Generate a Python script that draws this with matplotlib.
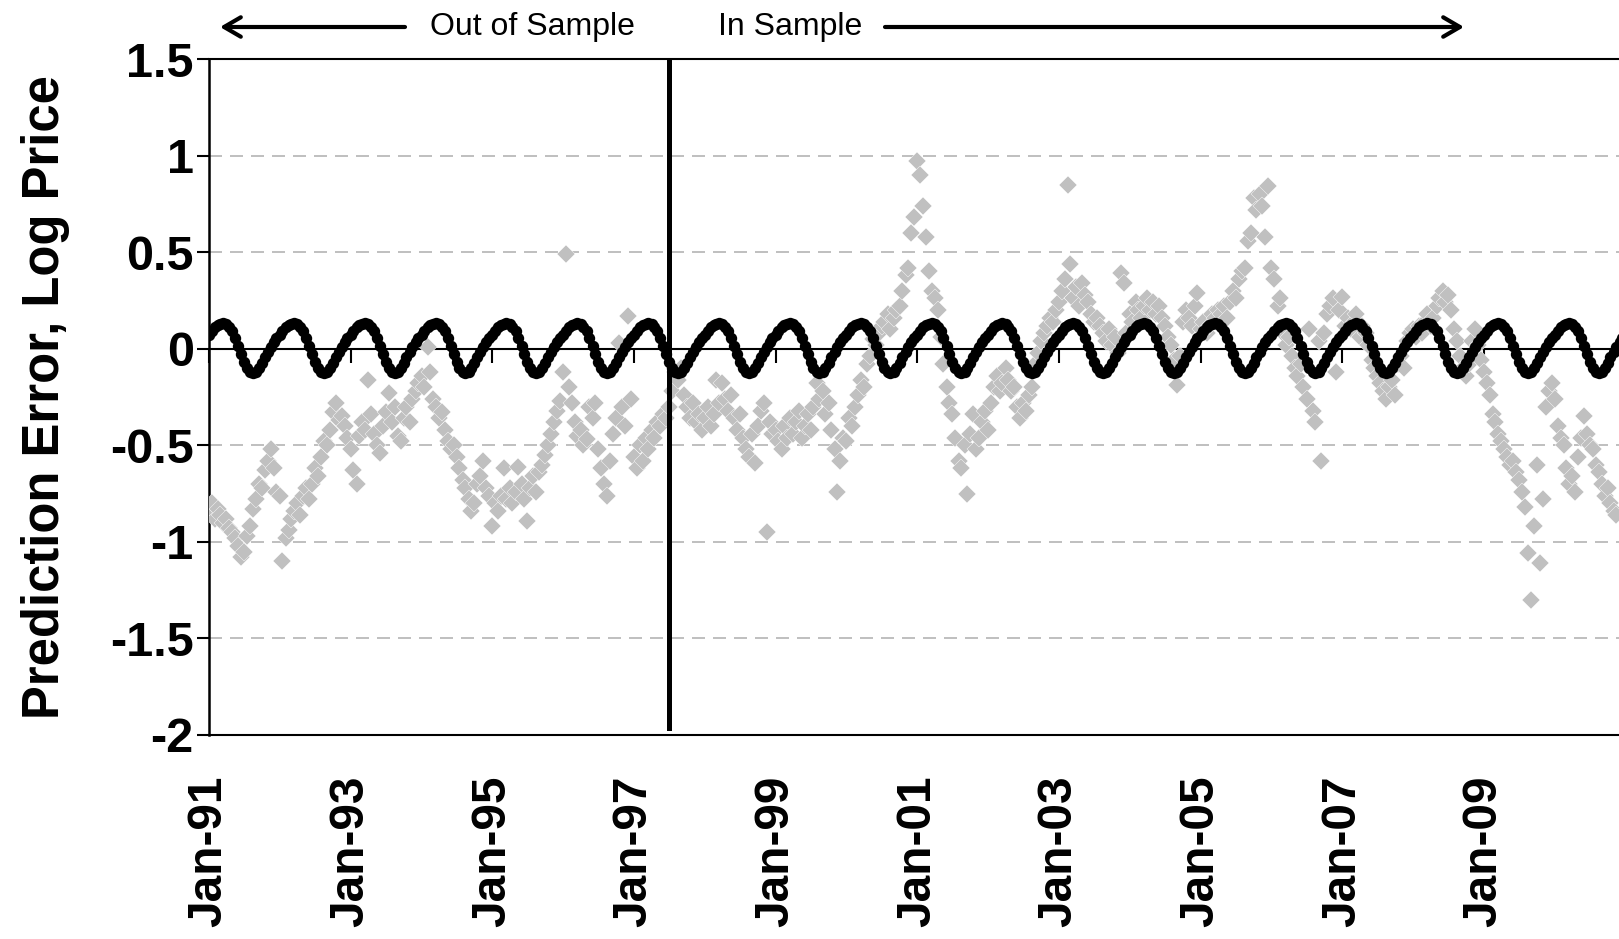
import matplotlib
matplotlib.use('Agg')
import matplotlib.pyplot as plt
import numpy as np
import pandas as pd

plt.rcParams['font.family'] = ['Liberation Sans', 'DejaVu Sans']
plt.rcParams['axes.unicode_minus'] = False

# seasonal component for one year, sampled on the 1st and 15th of each month
seasonal_year = [0.070, 0.092, 0.110, 0.122, 0.129, 0.131, 0.128, 0.115,
                 0.090, 0.055, 0.015, -0.028, -0.068, -0.100, -0.119, -0.125,
                 -0.118, -0.098, -0.072, -0.045, -0.018, 0.010, 0.035, 0.055]
seasonal_years = 20

# prediction errors (log price), twice a month
err_1991 = [-0.85, -0.80, -0.88, -0.83, -0.86, -0.90, -0.88, -0.93, -0.95, -0.98, -1.02, -1.08,
            -1.05, -0.97, -0.92, -0.83, -0.78, -0.70, -0.72, -0.63, -0.58, -0.52, -0.62, -0.74]
err_1992 = [-0.76, -1.10, -0.98, -0.94, -0.88, -0.84, -0.80, -0.86, -0.76, -0.72, -0.78, -0.70,
            -0.62, -0.66, -0.56, -0.48, -0.50, -0.42, -0.33, -0.28, -0.37, -0.35, -0.40, -0.46]
err_1993 = [-0.52, -0.63, -0.70, -0.45, -0.38, -0.42, -0.16, -0.34, -0.44, -0.50, -0.54, -0.40,
            -0.33, -0.23, -0.38, -0.30, -0.45, -0.48, -0.36, -0.30, -0.38, -0.26, -0.22, -0.18]
err_1994 = [-0.14, -0.20, 0.01, -0.12, -0.26, -0.30, -0.36, -0.33, -0.42, -0.48, -0.52, -0.50,
            -0.56, -0.62, -0.68, -0.72, -0.78, -0.84, -0.80, -0.70, -0.66, -0.58, -0.72, -0.76]
err_1995 = [-0.92, -0.80, -0.84, -0.76, -0.62, -0.78, -0.72, -0.80, -0.74, -0.61, -0.70, -0.78,
            -0.89, -0.72, -0.66, -0.74, -0.64, -0.60, -0.55, -0.50, -0.44, -0.38, -0.32, -0.27]
err_1996 = [-0.12, 0.49, -0.20, -0.28, -0.38, -0.45, -0.42, -0.50, -0.47, -0.30, -0.36, -0.28,
            -0.52, -0.62, -0.70, -0.76, -0.58, -0.44, -0.36, 0.03, -0.30, -0.40, 0.17, -0.26]
err_1997 = [-0.56, -0.62, -0.50, -0.58, -0.46, -0.52, -0.42, -0.46, -0.38, -0.40, -0.34, -0.36,
            -0.30, -0.22, -0.12, -0.16, -0.10, -0.24, -0.30, -0.36, -0.28, -0.38, -0.34, -0.42]
err_1998 = [-0.36, -0.30, -0.40, -0.34, -0.16, -0.28, -0.18, -0.26, -0.32, -0.24, -0.36, -0.42,
            -0.34, -0.46, -0.52, -0.56, -0.44, -0.59, -0.40, -0.32, -0.28, -0.95, -0.38, -0.44]
err_1999 = [-0.42, -0.48, -0.52, -0.40, -0.46, -0.36, -0.44, -0.38, -0.32, -0.46, -0.40, -0.34,
            -0.42, -0.30, -0.18, -0.26, -0.22, -0.34, -0.28, -0.42, -0.52, -0.74, -0.58, -0.46]
err_2000 = [-0.48, -0.36, -0.40, -0.30, -0.24, -0.16, -0.20, -0.08, -0.04, 0.05, 0.02, 0.08,
            0.12, 0.14, 0.18, 0.10, 0.16, 0.20, 0.22, 0.30, 0.38, 0.42, 0.60, 0.68]
err_2001 = [0.97, 0.90, 0.74, 0.58, 0.40, 0.30, 0.26, 0.20, 0.06, -0.08, -0.20, -0.28,
            -0.34, -0.46, -0.58, -0.62, -0.50, -0.75, -0.44, -0.34, -0.52, -0.46, -0.38, -0.32]
err_2002 = [-0.42, -0.28, -0.20, -0.14, -0.22, -0.18, -0.10, -0.16, -0.22, -0.20, -0.30, -0.36,
            -0.28, -0.32, -0.24, -0.20, -0.08, -0.02, 0.04, 0.08, 0.12, 0.16, 0.14, 0.20]
err_2003 = [0.24, 0.30, 0.36, 0.85, 0.44, 0.26, 0.32, 0.22, 0.34, 0.28, 0.24, 0.18,
            0.14, 0.16, 0.12, 0.08, 0.04, 0.10, 0.02, 0.06, -0.02, 0.39, 0.34, 0.08]
err_2004 = [0.18, 0.14, 0.24, 0.20, 0.16, 0.22, 0.26, 0.20, 0.24, 0.18, 0.22, 0.16,
            0.12, 0.06, 0.02, -0.06, -0.19, -0.04, 0.14, 0.20, 0.16, 0.12, 0.22, 0.29]
err_2005 = [0.10, 0.14, 0.08, 0.12, 0.18, 0.16, 0.20, 0.18, 0.22, 0.16, 0.24, 0.30,
            0.26, 0.36, 0.40, 0.42, 0.56, 0.60, 0.78, 0.72, 0.80, 0.74, 0.58, 0.84]
err_2006 = [0.42, 0.36, 0.22, 0.26, 0.08, 0.02, 0.06, -0.04, -0.10, -0.14, -0.08, -0.20,
            -0.26, 0.10, -0.32, -0.38, 0.04, -0.58, 0.08, 0.18, 0.22, 0.26, -0.12, 0.20]
err_2007 = [0.27, 0.12, 0.16, 0.10, 0.14, 0.18, 0.06, 0.12, 0.08, 0.02, -0.06, -0.10,
            -0.14, -0.18, -0.22, -0.26, -0.20, -0.16, -0.24, -0.08, -0.04, -0.10, 0.04, 0.08]
err_2008 = [0.10, 0.06, 0.12, 0.08, 0.14, 0.18, 0.12, 0.16, 0.22, 0.26, 0.30, 0.24,
            0.28, 0.20, 0.10, 0.04, -0.04, -0.10, -0.14, -0.08, 0.04, 0.10, 0.02, -0.06]
err_2009 = [-0.12, -0.18, -0.24, -0.34, -0.38, -0.44, -0.48, -0.52, -0.56, -0.60, -0.58, -0.64,
            -0.68, -0.74, -0.82, -1.06, -1.30, -0.92, -0.60, -1.11, -0.78, -0.30, -0.22, -0.18]
err_2010 = [-0.26, -0.40, -0.46, -0.50, -0.62, -0.70, -0.66, -0.74, -0.56, -0.46, -0.35, -0.44,
            -0.50, -0.52, -0.60, -0.64, -0.70, -0.76, -0.72, -0.80, -0.84, -0.86]

split_date = '1997-07-01'
tick_years = [1991, 1993, 1995, 1997, 1999, 2001, 2003, 2005, 2007, 2009]
y_ticks = [-2, -1.5, -1, -0.5, 0, 0.5, 1, 1.5]

errors = (err_1991 + err_1992 + err_1993 + err_1994 + err_1995 + err_1996 + err_1997 +
          err_1998 + err_1999 + err_2000 + err_2001 + err_2002 + err_2003 + err_2004 +
          err_2005 + err_2006 + err_2007 + err_2008 + err_2009 + err_2010)
err_dates = pd.date_range('1991-01-01', periods=len(errors), freq='SMS')
seasonal = np.tile(seasonal_year, seasonal_years)
seas_dates = pd.date_range('1991-01-01', periods=len(seasonal), freq='SMS')

W, H = 1619, 939
fig = plt.figure(figsize=(W / 100, H / 100), dpi=100)
ax = fig.add_axes([209 / W, (H - 735) / H, (W - 209) / W, (735 - 59) / H])

grey = '#C0C0C0'
ax.plot(err_dates, errors, ls='none', marker='D', ms=9.5, color=grey,
        mec='white', mew=0.3, zorder=3)
ax.plot(seas_dates, seasonal, color='black', lw=5, marker='o', ms=7.2,
        zorder=4)
ax.axvline(pd.Timestamp(split_date), ymin=0.01, ymax=1, color='black', lw=3.6, zorder=5)
ax.axhline(0, color='black', lw=1.5, zorder=2)

ymin, ymax = -2, 1.5
ax.set_ylim(ymin, ymax)
ax.set_xlim(pd.Timestamp('1991-01-01'), pd.Timestamp('2010-11-28'))
ax.set_yticks(y_ticks)
ax.set_yticklabels(['%g' % v for v in y_ticks])
ax.yaxis.grid(True, color=grey, lw=1.44, ls=(0, (6.5, 4)), zorder=0)
ax.set_axisbelow(True)

tick_dates = pd.to_datetime(['%d-01-01' % y for y in tick_years])
ax.set_xticks(tick_dates)
ax.set_xticklabels([d.strftime('%b-%y') for d in tick_dates], rotation=90,
                   fontsize=34.5, fontweight='bold', va='top', ha='center')
ax.tick_params(axis='x', length=0, pad=29)
ax.tick_params(axis='y', direction='out', length=9, width=1.5, pad=2,
               labelsize=35)
for lab in ax.get_yticklabels():
    lab.set_fontweight('bold')

for side in ['top', 'bottom', 'left']:
    ax.spines[side].set_color('black')
    ax.spines[side].set_linewidth(1.5)
ax.spines['left'].set_linewidth(1.8)
ax.spines['right'].set_visible(False)

# tick marks hanging from the zero line
sec = ax.secondary_xaxis((0 - ymin) / (ymax - ymin))
sec.set_alignment('bottom')
sec.set_xticks(tick_dates)
sec.tick_params(axis='x', direction='out', length=10, width=1.5,
                labelbottom=False, labeltop=False)
sec.spines['bottom'].set_visible(False)

fig.text(46 / W, 1 - 397 / H, 'Prediction Error, Log Price', rotation=90,
         ha='center', va='center', fontsize=36.5, fontweight='bold')

# sample markers above the plot
ya = H - 27
arrow = dict(arrowstyle='->,head_length=0.6,head_width=0.35', lw=3,
             color='black', mutation_scale=20, shrinkA=0, shrinkB=0)
ax.annotate('', xy=(220, ya), xytext=(405, ya), xycoords='figure pixels',
            textcoords='figure pixels', arrowprops=arrow)
ax.annotate('', xy=(1464, ya), xytext=(885, ya), xycoords='figure pixels',
            textcoords='figure pixels', arrowprops=arrow)
fig.text(532 / W, ya / H, 'Out of Sample', ha='center', va='center', fontsize=23)
fig.text(790 / W, ya / H, 'In Sample', ha='center', va='center', fontsize=23)

fig.savefig('out.png', dpi=100)
